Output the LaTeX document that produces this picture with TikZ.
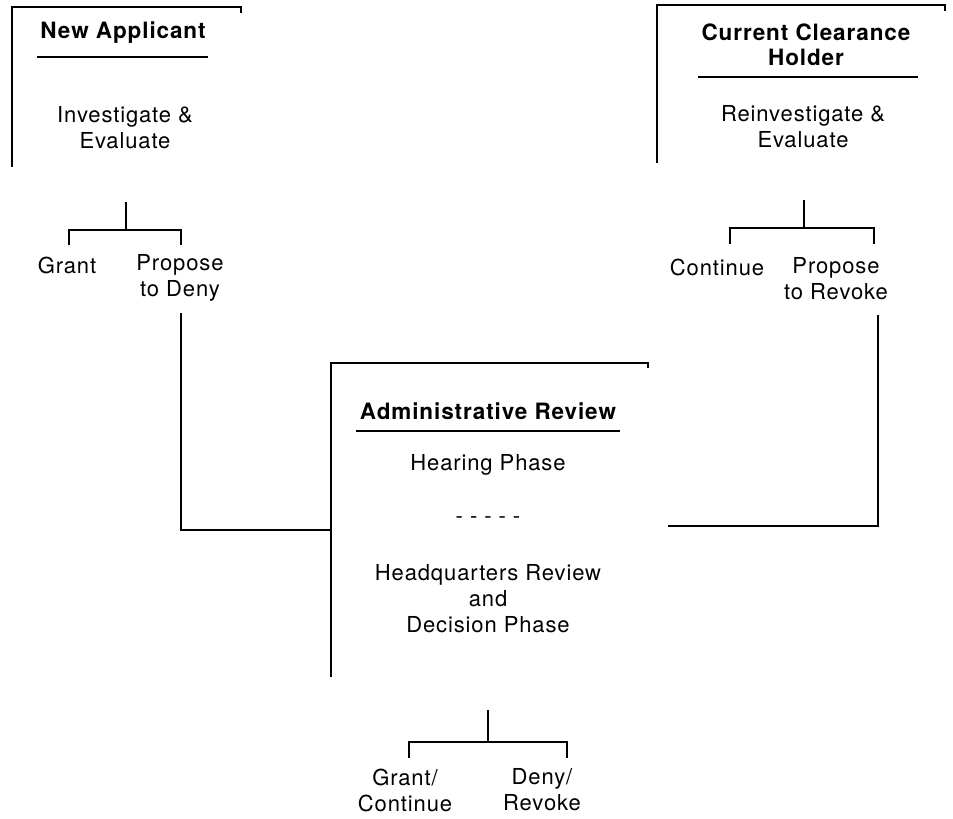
\documentclass[tikz,border=0pt]{standalone}
\usepackage{fontspec}
\setmainfont[LetterSpace=4]{TeX Gyre Heros}
\begin{document}
\begin{tikzpicture}[x=1pt,y=-1pt,
  ln/.style={line width=1.7pt,line join=miter},
  thin/.style={line width=1.4pt},
  txt/.style={inner sep=0pt,align=center,font=\fontsize{22}{26}\selectfont},
  ttl/.style={inner sep=0pt,align=center,font=\fontsize{22.5}{25}\selectfont\bfseries}]
\useasboundingbox (0,0) rectangle (953,819);
% box 1
\coordinate (b1bl) at (12,167); \coordinate (b1tl) at (12,7);
\coordinate (b1tr) at (241,7); \coordinate (b1hk) at (241,13);
\draw[ln] (b1bl) -- (b1tl) -- (b1tr) -- (b1hk);
\node[ttl] (t1) at (123,33) {New Applicant};
\coordinate (u1a) at (37,57); \coordinate (u1b) at (208,57);
\draw[thin] (u1a) -- (u1b);
\node[txt] (e1) at (125,128) {Investigate \&\\Evaluate};
% tree 1
\coordinate (r1) at (126,202); \coordinate (r1j) at (126,230);
\coordinate (l1a) at (69,245); \coordinate (l1ab) at (69,230);
\coordinate (l1bb) at (181,230); \coordinate (l1b) at (181,245);
\draw[ln] (r1) -- (r1j);
\draw[ln] (l1a) -- (l1ab) -- (l1bb) -- (l1b);
\node[txt] (grant1) at (67,265) {Grant};
\node[txt] (deny1) at (180,278) {Propose\\to Deny};
\coordinate (c1a) at (181,313); \coordinate (c1b) at (181,530);
\coordinate (c1c) at (331,530);
\draw[ln] (c1a) -- (c1b) -- (c1c);
% box 2
\coordinate (b2bl) at (657,163); \coordinate (b2tl) at (657,5);
\coordinate (b2tr) at (945,5); \coordinate (b2hk) at (945,11);
\draw[ln] (b2bl) -- (b2tl) -- (b2tr) -- (b2hk);
\node[ttl] (t2) at (806,45) {Current Clearance\\Holder};
\coordinate (u2a) at (698,77); \coordinate (u2b) at (918,77);
\draw[thin] (u2a) -- (u2b);
\node[txt] (e2) at (803,127) {Reinvestigate \&\\Evaluate};
% tree 2
\coordinate (r2) at (804,200); \coordinate (r2j) at (804,228);
\coordinate (l2a) at (730,244); \coordinate (l2ab) at (730,228);
\coordinate (l2bb) at (874,228); \coordinate (l2b) at (874,244);
\draw[ln] (r2) -- (r2j);
\draw[ln] (l2a) -- (l2ab) -- (l2bb) -- (l2b);
\node[txt] (cont2) at (717,267) {Continue};
\node[txt] (rev2) at (836,279) {Propose\\to Revoke};
\coordinate (c2a) at (878,315); \coordinate (c2b) at (878,526);
\coordinate (c2c) at (668,526);
\draw[ln] (c2a) -- (c2b) -- (c2c);
% box 3
\coordinate (b3bl) at (331,677); \coordinate (b3tl) at (331,363);
\coordinate (b3tr) at (648,363); \coordinate (b3hk) at (648,368);
\draw[ln] (b3bl) -- (b3tl) -- (b3tr) -- (b3hk);
\node[ttl] (t3) at (488,411) {Administrative Review};
\coordinate (u3a) at (356,431); \coordinate (u3b) at (620,431);
\draw[thin] (u3a) -- (u3b);
\node[txt] (hp) at (488,465) {Hearing Phase};
\node[txt] (dash) at (488,520) {- - - - -};
\node[txt] (hq) at (488,599) {Headquarters Review\\and\\Decision Phase};
% tree 3
\coordinate (r3) at (488,710); \coordinate (r3j) at (488,742);
\coordinate (l3a) at (409,758); \coordinate (l3ab) at (409,742);
\coordinate (l3bb) at (567,742); \coordinate (l3b) at (567,758);
\draw[ln] (r3) -- (r3j);
\draw[ln] (l3a) -- (l3ab) -- (l3bb) -- (l3b);
\node[txt] (gc) at (405,790) {Grant/\\Continue};
\node[txt] (dr) at (542,790) {Deny/\\Revoke};
\end{tikzpicture}
\end{document}
